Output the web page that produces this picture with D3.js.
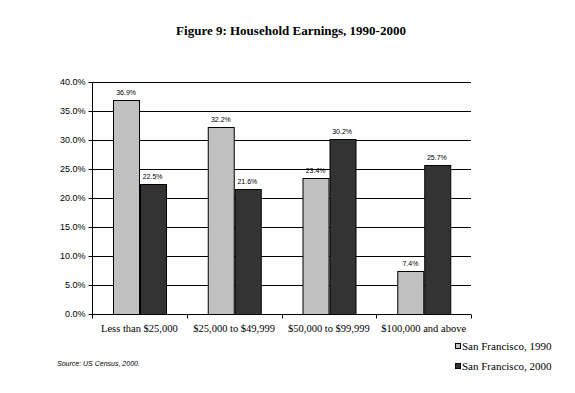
<!DOCTYPE html>
<html>
<head>
<meta charset="utf-8">
<script src="https://cdn.jsdelivr.net/npm/d3@7"></script>
<style>
  body { margin: 0; background: #fff; }
  svg { display: block; }
</style>
</head>
<body>
<div id="chart"></div>
<script>
const categories = ['Less than $25,000', '$25,000 to $49,999', '$50,000 to $99,999', '$100,000 and above'];
const series = ['San Francisco, 1990', 'San Francisco, 2000'];
const values1990 = [36.9, 32.2, 23.4, 7.4];
const values2000 = [22.5, 21.6, 30.2, 25.7];
const yTicks = [0, 5, 10, 15, 20, 25, 30, 35, 40];
const colors = ['#c0c0c0', '#333333'];

const width = 575, height = 393;
const plot = { left: 92, right: 471, top: 82, bottom: 314 };

const svg = d3.select('#chart').append('svg')
    .attr('width', width)
    .attr('height', height);

const x = d3.scaleBand()
    .domain(categories)
    .range([plot.left, plot.right])
    .paddingInner(0)
    .paddingOuter(0);

const xs = d3.scaleBand()
    .domain(series)
    .range([0, x.bandwidth()])
    .paddingInner(0.02)
    .paddingOuter(0.8);

const y = d3.scaleLinear()
    .domain([0, 40])
    .range([plot.bottom, plot.top]);

// gridlines
svg.append('g')
    .selectAll('line')
    .data(yTicks.filter(d => d > 0))
    .enter().append('line')
    .attr('x1', plot.left)
    .attr('x2', plot.right)
    .attr('y1', d => Math.round(y(d)) + 0.5)
    .attr('y2', d => Math.round(y(d)) + 0.5)
    .attr('stroke', '#000')
    .attr('stroke-width', 1);

// bars
const rows = categories.map((c, i) => ({ cat: c, vals: [values1990[i], values2000[i]] }));
const groups = svg.append('g').selectAll('g')
    .data(rows)
    .enter().append('g')
    .attr('transform', d => `translate(${x(d.cat)},0)`);

groups.selectAll('rect')
    .data(d => d.vals.map((v, j) => ({ s: series[j], v, j })))
    .enter().append('rect')
    .attr('x', d => Math.round(xs(d.s)) + 0.5)
    .attr('y', d => Math.round(y(d.v)) + 0.5)
    .attr('width', Math.round(xs.bandwidth()))
    .attr('height', d => Math.round(y(0)) - Math.round(y(d.v)))
    .attr('fill', d => colors[d.j])
    .attr('stroke', '#000')
    .attr('stroke-width', 1);

groups.selectAll('text')
    .data(d => d.vals.map((v, j) => ({ s: series[j], v, j })))
    .enter().append('text')
    .attr('x', d => xs(d.s) + xs.bandwidth() / 2)
    .attr('y', d => y(d.v) - 5)
    .attr('text-anchor', 'middle')
    .style('font-family', 'Arial, "Liberation Sans", sans-serif')
    .style('font-size', '7px')
    .text(d => d.v.toFixed(1) + '%');

// y axis
const yAxis = svg.append('g')
    .attr('transform', `translate(${plot.left + 0.5},0)`)
    .call(d3.axisLeft(y).tickValues(yTicks).tickSize(4).tickFormat(d => d.toFixed(1) + '%'));
yAxis.select('.domain').attr('d', `M0,${plot.top}V${plot.bottom + 0.5}`);
yAxis.selectAll('.tick').attr('transform', d => `translate(0,${Math.round(y(d)) + 0.5})`);
yAxis.selectAll('text')
    .attr('x', -7)
    .style('font-family', 'Arial, "Liberation Sans", sans-serif')
    .style('font-size', '9px')
    .attr('fill', '#000');

// x axis
const xAxis = svg.append('g')
    .attr('transform', `translate(0,${plot.bottom + 0.5})`)
    .call(d3.axisBottom(x).tickSize(0).tickSizeOuter(0));
xAxis.select('.domain').remove();
xAxis.append('line')
    .attr('x1', plot.left).attr('x2', plot.right)
    .attr('stroke', '#000');
xAxis.selectAll('.tickmark')
    .data(d3.range(categories.length + 1))
    .enter().append('line')
    .attr('x1', i => Math.round(plot.left + i * x.bandwidth()) + 0.5)
    .attr('x2', i => Math.round(plot.left + i * x.bandwidth()) + 0.5)
    .attr('y1', 0).attr('y2', 4)
    .attr('stroke', '#000');
xAxis.selectAll('.tick text')
    .attr('y', 10)
    .style('font-family', '"Liberation Serif", "Times New Roman", serif')
    .style('font-size', '10.5px')
    .attr('fill', '#000');

// title
svg.append('text')
    .attr('x', 291)
    .attr('y', 35)
    .attr('text-anchor', 'middle')
    .style('font-family', '"Liberation Serif", "Times New Roman", serif')
    .style('font-weight', 'bold')
    .style('font-size', '13px')
    .text('Figure 9: Household Earnings, 1990-2000');

// legend
const legend = svg.append('g').attr('transform', 'translate(455,343)');
const items = legend.selectAll('g')
    .data(series)
    .enter().append('g')
    .attr('transform', (d, i) => `translate(0,${i * 20})`);
items.append('rect')
    .attr('x', 0.5).attr('y', 0.5)
    .attr('width', 5).attr('height', 5)
    .attr('fill', (d, i) => colors[i])
    .attr('stroke', '#000');
items.append('text')
    .attr('x', 7)
    .attr('y', 7)
    .style('font-family', '"Liberation Serif", "Times New Roman", serif')
    .style('font-size', '11px')
    .text(d => d);

// source note
svg.append('text')
    .attr('x', 57)
    .attr('y', 366)
    .style('font-family', 'Arial, "Liberation Sans", sans-serif')
    .style('font-style', 'italic')
    .style('font-size', '7px')
    .text('Source:   US Census, 2000.');
</script>
</body>
</html>
